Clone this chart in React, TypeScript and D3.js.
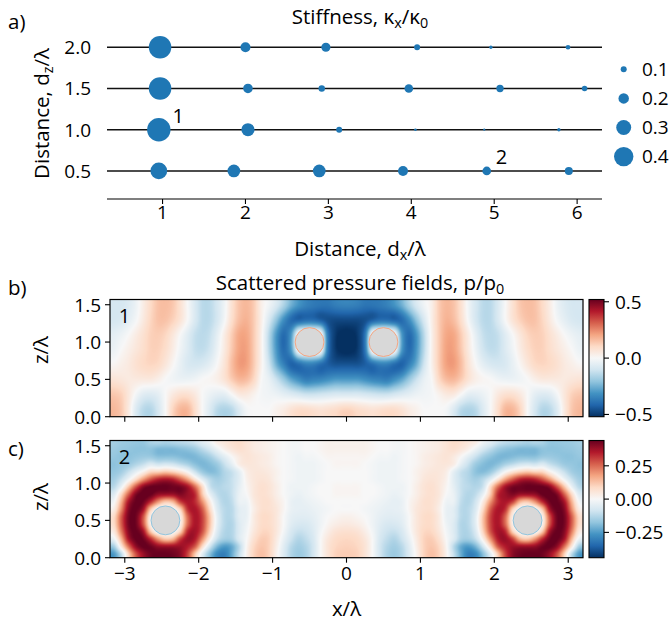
import React, { useMemo } from "react";
import * as d3 from "d3";

const FONT = "'Open Sans', 'DejaVu Sans', sans-serif";

// ---------- Panel a: stiffness bubbles ----------
const rowDz = [2.0, 1.5, 1.0, 0.5];
const dxAtDz20 = [0.97, 2.0, 2.97, 4.07, 4.96, 5.89];
const kAtDz20 = [0.47, 0.19, 0.17, 0.1, 0.04, 0.07];
const dxAtDz15 = [0.97, 2.03, 2.92, 3.97, 5.07, 6.09];
const kAtDz15 = [0.47, 0.18, 0.11, 0.16, 0.13, 0.09];
const dxAtDz10 = [0.955, 2.03, 3.13, 4.05, 4.88, 5.78];
const kAtDz10 = [0.49, 0.26, 0.1, 0.025, 0.015, 0.04];
const dxAtDz05 = [0.955, 1.86, 2.89, 3.9, 4.91, 5.9];
const kAtDz05 = [0.34, 0.25, 0.25, 0.19, 0.16, 0.145];
const legendK = [0.1, 0.2, 0.3, 0.4];
const xTicksA = [1, 2, 3, 4, 5, 6];
const yTicksA = [0.5, 1.0, 1.5, 2.0];
const annotLabelsA = ["1", "2"];
const annotDxA = [1.12, 5.02];
const annotDzA = [1.085, 0.585];

// ---------- Panels b, c: scattered pressure fields ----------
// grid cell centres in x: -3.15 ... -0.05, step 0.1 (fields are mirror-symmetric about x = 0)
const gridX0 = -3.15;
const gridStepX = 0.1;
// panel b rows: z = 1.5 (top) ... 0.1, step 0.2
const gridZ0B = 0.1;
const gridStepZB = 0.2;
const fieldB = [
  [-0.09, -0.09, -0.07, -0.03, 0.04, 0.1, 0.15, 0.16, 0.14, 0.08, 0.0, -0.08, -0.14, -0.14, -0.09, -0.02, 0.08, 0.15, 0.17, 0.13, 0.03, -0.02, -0.08, -0.16, -0.25, -0.31, -0.35, -0.37, -0.38, -0.38, -0.36, -0.35],
  [-0.09, -0.08, -0.05, -0.01, 0.05, 0.11, 0.15, 0.15, 0.12, 0.07, 0.0, -0.08, -0.14, -0.14, -0.09, -0.01, 0.09, 0.16, 0.18, 0.13, 0.03, -0.08, -0.2, -0.32, -0.4, -0.42, -0.4, -0.4, -0.43, -0.46, -0.47, -0.47],
  [-0.05, -0.03, 0.0, 0.04, 0.08, 0.12, 0.13, 0.11, 0.06, 0.0, -0.06, -0.12, -0.14, -0.12, -0.05, 0.04, 0.13, 0.2, 0.2, 0.13, 0.02, -0.14, -0.3, -0.4, -0.3, 0.0, 0.05, 0.05, 0.0, -0.38, -0.5, -0.53],
  [-0.03, 0.0, 0.03, 0.06, 0.09, 0.12, 0.12, 0.09, 0.04, -0.02, -0.07, -0.12, -0.13, -0.1, -0.03, 0.05, 0.14, 0.21, 0.21, 0.13, 0.02, -0.14, -0.3, -0.4, -0.3, 0.0, 0.05, 0.05, 0.0, -0.38, -0.5, -0.53],
  [0.01, 0.03, 0.05, 0.08, 0.1, 0.11, 0.1, 0.06, 0.01, -0.04, -0.08, -0.09, -0.08, -0.05, 0.0, 0.07, 0.16, 0.22, 0.21, 0.13, 0.02, -0.1, -0.25, -0.35, -0.42, -0.4, -0.36, -0.36, -0.4, -0.43, -0.45, -0.45],
  [0.07, 0.06, 0.05, 0.05, 0.05, 0.05, 0.03, 0.0, -0.02, -0.03, -0.03, -0.02, 0.0, 0.01, 0.03, 0.07, 0.13, 0.17, 0.16, 0.1, 0.0, -0.04, -0.11, -0.19, -0.27, -0.32, -0.36, -0.35, -0.34, -0.32, -0.3, -0.3],
  [0.14, 0.12, 0.06, -0.01, -0.06, -0.07, -0.05, 0.0, 0.05, 0.08, 0.08, 0.05, 0.0, -0.03, -0.05, -0.05, 0.0, 0.05, 0.05, 0.02, -0.01, -0.02, -0.03, -0.05, -0.07, -0.09, -0.11, -0.11, -0.1, -0.09, -0.08, -0.08],
  [0.17, 0.14, 0.05, -0.07, -0.14, -0.15, -0.09, 0.0, 0.11, 0.17, 0.17, 0.09, 0.0, -0.07, -0.14, -0.16, -0.14, -0.07, -0.01, 0.0, 0.0, 0.0, 0.02, 0.04, 0.07, 0.09, 0.09, 0.08, 0.07, 0.08, 0.09, 0.11],
];
// panel c rows: z = 1.55 (top) ... 0.05, step 0.1
const gridZ0C = 0.05;
const gridStepZC = 0.1;
const fieldC = [
  [-0.15, -0.16, -0.165, -0.17, -0.17, -0.14, -0.13, -0.14, -0.13, -0.12, -0.11, -0.09, -0.05, -0.02, 0.03, 0.05, 0.07, 0.08, 0.06, 0.04, 0.03, 0.02, 0.01, 0.0, -0.01, -0.01, 0.0, 0.0, 0.01, 0.02, 0.02, 0.02],
  [-0.16, -0.17, -0.175, -0.18, -0.18, -0.18, -0.2, -0.2, -0.2, -0.19, -0.18, -0.16, -0.12, -0.08, -0.03, 0.02, 0.05, 0.07, 0.06, 0.04, 0.03, 0.02, 0.01, 0.0, -0.01, -0.01, 0.0, 0.0, 0.01, 0.02, 0.02, 0.02],
  [-0.17, -0.18, -0.18, -0.17, -0.16, -0.16, -0.18, -0.18, -0.18, -0.19, -0.2, -0.2, -0.18, -0.15, -0.1, -0.05, 0.0, 0.04, 0.06, 0.05, 0.04, 0.03, 0.01, 0.0, -0.01, -0.02, -0.01, -0.01, 0.0, 0.01, 0.01, 0.01],
  [-0.18, -0.17, -0.16, -0.13, -0.1, -0.06, -0.08, -0.07, -0.08, -0.11, -0.14, -0.18, -0.2, -0.19, -0.16, -0.1, -0.04, 0.03, 0.05, 0.05, 0.04, 0.03, 0.01, 0.0, -0.01, -0.02, -0.02, -0.02, -0.01, 0.0, 0.01, 0.01],
  [-0.17, -0.15, -0.1, -0.04, 0.02, 0.09, 0.1, 0.12, 0.1, 0.06, 0.0, -0.09, -0.16, -0.19, -0.18, -0.13, -0.1, -0.04, 0.03, 0.05, 0.05, 0.04, 0.02, 0.0, -0.01, -0.02, -0.02, -0.02, -0.01, 0.0, 0.0, 0.0],
  [-0.15, -0.1, -0.02, 0.08, 0.19, 0.28, 0.34, 0.36, 0.34, 0.27, 0.18, 0.06, -0.05, -0.12, -0.15, -0.13, -0.1, -0.05, 0.02, 0.05, 0.06, 0.05, 0.02, 0.0, -0.01, -0.02, -0.02, -0.02, -0.01, 0.0, 0.0, 0.0],
  [-0.12, -0.03, 0.12, 0.28, 0.4, 0.44, 0.44, 0.44, 0.43, 0.42, 0.37, 0.25, 0.08, -0.09, -0.13, -0.12, -0.1, -0.04, 0.01, 0.05, 0.07, 0.06, 0.03, 0.0, -0.02, -0.02, -0.02, -0.01, 0.0, 0.0, 0.01, 0.01],
  [-0.06, 0.08, 0.26, 0.41, 0.45, 0.44, 0.39, 0.38, 0.38, 0.41, 0.38, 0.33, 0.12, -0.03, -0.11, -0.13, -0.1, -0.03, 0.0, 0.05, 0.07, 0.06, 0.03, 0.0, -0.02, -0.03, -0.02, -0.01, 0.0, 0.0, 0.01, 0.01],
  [-0.01, 0.15, 0.36, 0.44, 0.43, 0.33, 0.2, 0.12, 0.15, 0.3, 0.36, 0.33, 0.2, 0.04, -0.08, -0.13, -0.11, -0.03, -0.02, 0.04, 0.07, 0.07, 0.04, 0.01, -0.03, -0.04, -0.03, -0.02, -0.01, 0.0, 0.0, 0.0],
  [0.03, 0.2, 0.4, 0.44, 0.37, 0.12, 0.0, 0.0, 0.0, 0.1, 0.32, 0.36, 0.27, 0.09, -0.06, -0.12, -0.12, -0.05, -0.03, 0.03, 0.07, 0.07, 0.05, 0.01, -0.03, -0.04, -0.04, -0.03, -0.02, -0.01, 0.0, 0.0],
  [0.08, 0.26, 0.42, 0.43, 0.28, 0.03, 0.0, 0.0, 0.0, 0.03, 0.25, 0.36, 0.3, 0.13, -0.04, -0.12, -0.12, -0.05, -0.03, 0.04, 0.08, 0.08, 0.05, 0.0, -0.04, -0.05, -0.05, -0.04, -0.02, 0.0, 0.01, 0.02],
  [0.08, 0.26, 0.42, 0.43, 0.28, 0.03, 0.0, 0.0, 0.0, 0.03, 0.25, 0.36, 0.3, 0.13, -0.04, -0.12, -0.13, -0.06, -0.02, 0.04, 0.08, 0.08, 0.05, 0.0, -0.05, -0.07, -0.07, -0.05, -0.02, 0.01, 0.03, 0.04],
  [0.04, 0.22, 0.4, 0.44, 0.37, 0.12, 0.0, 0.0, 0.0, 0.1, 0.33, 0.37, 0.28, 0.1, -0.06, -0.13, -0.13, -0.06, -0.01, 0.05, 0.09, 0.09, 0.05, -0.01, -0.07, -0.1, -0.09, -0.06, -0.01, 0.03, 0.06, 0.07],
  [-0.03, 0.14, 0.36, 0.44, 0.43, 0.33, 0.2, 0.12, 0.15, 0.3, 0.38, 0.35, 0.2, 0.03, -0.1, -0.15, -0.14, -0.06, 0.0, 0.07, 0.11, 0.1, 0.04, -0.03, -0.09, -0.13, -0.11, -0.07, 0.0, 0.05, 0.08, 0.09],
  [-0.15, 0.04, 0.24, 0.39, 0.44, 0.43, 0.39, 0.38, 0.38, 0.38, 0.35, 0.27, 0.08, -0.08, -0.2, -0.25, -0.22, -0.12, 0.01, 0.09, 0.12, 0.1, 0.03, -0.05, -0.12, -0.15, -0.13, -0.08, 0.0, 0.06, 0.09, 0.1],
  [-0.25, -0.12, 0.1, 0.28, 0.38, 0.43, 0.44, 0.44, 0.43, 0.4, 0.3, 0.12, -0.05, -0.18, -0.28, -0.3, -0.22, -0.1, 0.02, 0.1, 0.13, 0.1, 0.02, -0.06, -0.13, -0.16, -0.14, -0.08, 0.0, 0.06, 0.1, 0.11],
];
const vmaxB = 0.52;
const vmaxC = 0.44;
const scatterXB = [-0.5, 0.5];
const scatterZB = [1.0, 1.0];
const scatterXC = [-2.45, 2.45];
const scatterZC = [0.5, 0.5];
const scatterRadius = 0.195;
const fieldXTicks = [-3, -2, -1, 0, 1, 2, 3];
const fieldZTicks = [0, 0.5, 1.0, 1.5];
const cbarTicksB = [-0.5, 0, 0.5];
const cbarLabelsB = ["\u22120.5", "0.0", "0.5"];
const cbarTicksC = [-0.25, 0, 0.25];
const cbarLabelsC = ["\u22120.25", "0.00", "0.25"];
const fieldTagB = "1";
const fieldTagC = "2";
const fieldTagX = -3.08;
const fieldTagZ = 1.26;

const RDBU_R = ["#053061", "#2166ac", "#4393c3", "#92c5de", "#d1e5f0", "#f7f7f7", "#fddbc7", "#f4a582", "#d6604d", "#b2182b", "#67001f"];

// ---------- layout ----------
const xA = d3.scaleLinear().domain([0.33, 6.3]).range([107, 602]);
const yA = d3.scaleLinear().domain([0.16, 2.3]).range([199, 22.5]);
const rA = d3.scaleLinear().domain([0.1, 0.4]).range([3.0, 9.7]);
const xF = d3.scaleLinear().domain([-3.2, 3.2]).range([110, 583]);
const zB = d3.scaleLinear().domain([0, 1.57]).range([416.7, 299.5]);
const zC = d3.scaleLinear().domain([0, 1.57]).range([557.7, 440.5]);
const cbB = d3.scaleLinear().domain([-vmaxB, vmaxB]).range([416.7, 299.5]);
const cbC = d3.scaleLinear().domain([-vmaxC, vmaxC]).range([557.7, 440.5]);
const CB_X = 589;
const CB_W = 15;

function renderField(half: number[][], vmax: number, w: number, h: number, zMax: number, z0: number, zStep: number): string {
  const rows = half.map((r) => r.concat(r.slice().reverse())).reverse();
  const nx = rows[0].length;
  const nz = rows.length;
  const cmap = d3
    .scaleLinear<string>()
    .domain(d3.range(11).map((i) => -vmax + (i * 2 * vmax) / 10))
    .range(RDBU_R)
    .interpolate(d3.interpolateRgb)
    .clamp(true);
  const lut: number[][] = [];
  for (let i = 0; i < 512; i++) {
    const c = d3.rgb(cmap(-vmax + (i / 511) * 2 * vmax));
    lut.push([c.r, c.g, c.b]);
  }
  const get = (i: number, j: number) => rows[Math.max(0, Math.min(nz - 1, j))][Math.max(0, Math.min(nx - 1, i))];
  const cr = (p0: number, p1: number, p2: number, p3: number, t: number) =>
    0.5 * (2 * p1 + (-p0 + p2) * t + (2 * p0 - 5 * p1 + 4 * p2 - p3) * t * t + (-p0 + 3 * p1 - 3 * p2 + p3) * t * t * t);
  const canvas = document.createElement("canvas");
  canvas.width = w;
  canvas.height = h;
  const ctx = canvas.getContext("2d")!;
  const img = ctx.createImageData(w, h);
  const [x0, x1] = xF.domain();
  for (let py = 0; py < h; py++) {
    const z = zMax - ((py + 0.5) / h) * zMax;
    const fj = (z - z0) / zStep;
    const j = Math.floor(fj);
    const tj = fj - j;
    for (let px = 0; px < w; px++) {
      const x = x0 + ((px + 0.5) / w) * (x1 - x0);
      const fi = (x - gridX0) / gridStepX;
      const i = Math.floor(fi);
      const ti = fi - i;
      const col: number[] = [];
      for (let dj = -1; dj <= 2; dj++) {
        col.push(cr(get(i - 1, j + dj), get(i, j + dj), get(i + 1, j + dj), get(i + 2, j + dj), ti));
      }
      const v = cr(col[0], col[1], col[2], col[3], tj);
      let k = Math.round(((v + vmax) / (2 * vmax)) * 511);
      k = Math.max(0, Math.min(511, k));
      const c = lut[k];
      const o = (py * w + px) * 4;
      img.data[o] = c[0];
      img.data[o + 1] = c[1];
      img.data[o + 2] = c[2];
      img.data[o + 3] = 255;
    }
  }
  ctx.putImageData(img, 0, 0);
  return canvas.toDataURL();
}

type Part = [string, boolean];
function MathParts({ parts, shift }: { parts: Part[]; shift: number }) {
  let cur = 0;
  return (
    <>
      {parts.map(([s, sub], i) => {
        const target = sub ? shift : 0;
        const dy = target - cur;
        cur = target;
        return (
          <tspan key={i} dy={dy} fontSize={sub ? "70%" : undefined}>
            {s}
          </tspan>
        );
      })}
    </>
  );
}

const tickStyle = { fontFamily: FONT, fontSize: 19, fill: "#000" } as const;
const labelStyle = { fontFamily: FONT, fontSize: 20.5, fill: "#000" } as const;

function FieldPanel({ field, z0, zStep, vmax, zScale, cbScale, cbTicks, cbLabels, sx, sz, tag, showXLabels, ringColor, gradId }: any) {
  const [r0, r1] = xF.range();
  const [zb, zt] = zScale.range();
  const w = Math.round(r1 - r0);
  const h = Math.round(zb - zt);
  const zMax = zScale.domain()[1];
  const url = useMemo(() => renderField(field, vmax, w, h, zMax, z0, zStep), [field, vmax, w, h, zMax, z0, zStep]);
  const pxPerUnit = (r1 - r0) / 6.4;
  return (
    <g>
      <image href={url} x={r0} y={zt} width={r1 - r0} height={zb - zt} preserveAspectRatio="none" />
      {sx.map((x: number, i: number) => (
        <circle key={i} cx={xF(x)} cy={zScale(sz[i])} r={scatterRadius * pxPerUnit} fill="#d8d8d8" stroke={ringColor} strokeWidth={1} />
      ))}
      <rect x={r0} y={zt} width={r1 - r0} height={zb - zt} fill="none" stroke="#000" strokeWidth={1.2} />
      {fieldZTicks.map((t) => (
        <g key={t}>
          <line x1={r0 - 5} x2={r0} y1={zScale(t)} y2={zScale(t)} stroke="#000" strokeWidth={1.1} />
          <text x={r0 - 9} y={zScale(t)} dy="0.36em" textAnchor="end" {...tickStyle}>
            {t.toFixed(1)}
          </text>
        </g>
      ))}
      {fieldXTicks.map((t) => (
        <g key={t}>
          <line x1={xF(t)} x2={xF(t)} y1={zb} y2={zb + 5} stroke="#000" strokeWidth={1.1} />
          {showXLabels && (
            <text x={xF(t)} y={zb + 22.5} textAnchor="middle" {...tickStyle}>
              {t < 0 ? "\u2212" + Math.abs(t) : String(t)}
            </text>
          )}
        </g>
      ))}
      <text x={xF(fieldTagX)} y={zScale(fieldTagZ)} {...tickStyle} fontSize={20}>
        {tag}
      </text>
      <rect x={CB_X} y={zt} width={CB_W} height={zb - zt} fill={`url(#${gradId})`} stroke="#000" strokeWidth={1.1} />
      {cbTicks.map((t: number, i: number) => (
        <g key={t}>
          <line x1={CB_X + CB_W} x2={CB_X + CB_W + 5} y1={cbScale(t)} y2={cbScale(t)} stroke="#000" strokeWidth={1.1} />
          <text x={CB_X + CB_W + 11} y={cbScale(t)} dy="0.36em" {...tickStyle}>
            {cbLabels[i]}
          </text>
        </g>
      ))}
    </g>
  );
}

export default function App() {
  const rows = [
    { dz: rowDz[0], dx: dxAtDz20, k: kAtDz20 },
    { dz: rowDz[1], dx: dxAtDz15, k: kAtDz15 },
    { dz: rowDz[2], dx: dxAtDz10, k: kAtDz10 },
    { dz: rowDz[3], dx: dxAtDz05, k: kAtDz05 },
  ];
  const [ax0, ax1] = xA.range();
  const lam = "\u03bb";
  return (
    <svg width={670} height={621} style={{ position: "absolute", left: 0, top: 0, background: "#fff" }}>
      <defs>
        <linearGradient id="cmapRdBu" x1="0" y1="1" x2="0" y2="0">
          {RDBU_R.map((c, i) => (
            <stop key={i} offset={i / 10} stopColor={c} />
          ))}
        </linearGradient>
      </defs>
      <rect width={670} height={621} fill="#fff" />

      {/* ---- panel a ---- */}
      <text x={8} y={29} {...labelStyle}>a)</text>
      <text x={360} y={24} textAnchor="middle" {...labelStyle}>
        <MathParts parts={[["Stiffness, \u03ba", false], ["x", true], ["/\u03ba", false], ["0", true]]} shift={4} />
      </text>
      {rows.map((r) => (
        <g key={r.dz}>
          <line x1={ax0} x2={ax1} y1={yA(r.dz)} y2={yA(r.dz)} stroke="#111" strokeWidth={1.4} />
          {r.dx.map((d, i) => (
            <circle key={i} cx={xA(d)} cy={yA(r.dz)} r={rA(r.k[i])} fill="#1f77b4" />
          ))}
        </g>
      ))}
      {annotLabelsA.map((s, i) => (
        <text key={s} x={xA(annotDxA[i])} y={yA(annotDzA[i])} {...tickStyle} fontSize={20}>
          {s}
        </text>
      ))}
      <line x1={ax0} x2={ax1} y1={yA.range()[0]} y2={yA.range()[0]} stroke="#000" strokeWidth={1.2} />
      {xTicksA.map((t) => (
        <g key={t}>
          <line x1={xA(t)} x2={xA(t)} y1={199} y2={204} stroke="#000" strokeWidth={1.1} />
          <text x={xA(t)} y={219} textAnchor="middle" {...tickStyle}>
            {t}
          </text>
        </g>
      ))}
      {yTicksA.map((t) => (
        <text key={t} x={91} y={yA(t)} dy="0.36em" textAnchor="end" {...tickStyle}>
          {t.toFixed(1)}
        </text>
      ))}
      <text x={360} y={256} textAnchor="middle" {...labelStyle}>
        <MathParts parts={[["Distance, d", false], ["x", true], ["/" + lam, false]]} shift={4} />
      </text>
      <text transform="translate(49,113.5) rotate(-90)" textAnchor="middle" {...labelStyle}>
        <MathParts parts={[["Distance, d", false], ["z", true], ["/" + lam, false]]} shift={4} />
      </text>
      {legendK.map((k, i) => (
        <g key={k}>
          <circle cx={623.7} cy={69.3 + i * 29.1} r={rA(k)} fill="#1f77b4" />
          <text x={642} y={69.3 + i * 29.1} dy="0.36em" {...tickStyle}>
            {k.toFixed(1)}
          </text>
        </g>
      ))}

      {/* ---- panel b ---- */}
      <text x={8} y={295} {...labelStyle}>b)</text>
      <text x={360} y={290} textAnchor="middle" {...labelStyle}>
        <MathParts parts={[["Scattered pressure fields, p/p", false], ["0", true]]} shift={4} />
      </text>
      <FieldPanel
        field={fieldB}
        z0={gridZ0B}
        zStep={gridStepZB}
        vmax={vmaxB}
        zScale={zB}
        cbScale={cbB}
        cbTicks={cbarTicksB}
        cbLabels={cbarLabelsB}
        sx={scatterXB}
        sz={scatterZB}
        tag={fieldTagB}
        showXLabels={false}
        ringColor="#f4a582"
        gradId="cmapRdBu"
      />
      <text transform="translate(48,350) rotate(-90)" textAnchor="middle" {...labelStyle}>
        {"z/" + lam}
      </text>

      {/* ---- panel c ---- */}
      <text x={8} y={456} {...labelStyle}>c)</text>
      <FieldPanel
        field={fieldC}
        z0={gridZ0C}
        zStep={gridStepZC}
        vmax={vmaxC}
        zScale={zC}
        cbScale={cbC}
        cbTicks={cbarTicksC}
        cbLabels={cbarLabelsC}
        sx={scatterXC}
        sz={scatterZC}
        tag={fieldTagC}
        showXLabels={true}
        ringColor="#92c5de"
        gradId="cmapRdBu"
      />
      <text transform="translate(48,497) rotate(-90)" textAnchor="middle" {...labelStyle}>
        {"z/" + lam}
      </text>
      <text x={346.5} y={616} textAnchor="middle" {...labelStyle}>
        {"x/" + lam}
      </text>
    </svg>
  );
}
